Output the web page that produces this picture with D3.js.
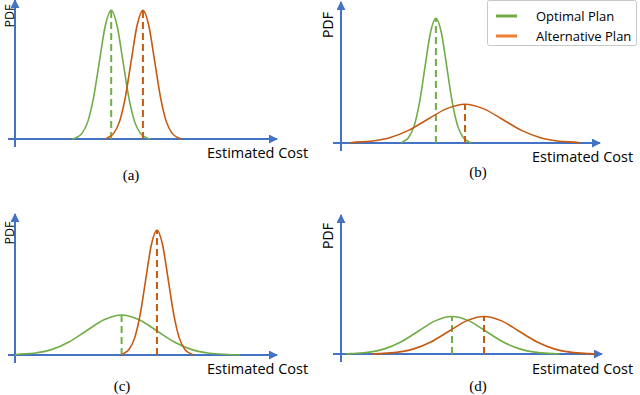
<!DOCTYPE html>
<html><head><meta charset="utf-8">
<script src="https://cdn.jsdelivr.net/npm/d3@7"></script>
<style>body{margin:0;background:#fff}svg{display:block}</style>
</head><body>
<svg id="c" width="640" height="395"></svg>
<script>
// ---- data (x: estimated cost, 0-100; y: PDF, 0-1) ----
const panelLabels = ["(a)", "(b)", "(c)", "(d)"];
const seriesNames = ["Optimal Plan", "Alternative Plan"];
const xLabel = "Estimated Cost";
const yLabel = "PDF";

const aOptimalX = [22, 23.5, 25.75, 28, 30.25, 32.5, 34.75, 37, 39.25, 41.5, 43.75, 46, 48.25, 50.5, 52];
const aOptimalY = [0, 0.011, 0.045, 0.139, 0.335, 0.625, 0.908, 1.03, 0.908, 0.625, 0.335, 0.139, 0.045, 0.011, 0];
const aAltX = [35, 35.7, 37.95, 40.2, 42.45, 44.7, 46.95, 49.2, 51.45, 53.7, 55.95, 58.2, 60.45, 62.7, 64];
const aAltY = [0, 0.011, 0.045, 0.139, 0.335, 0.625, 0.908, 1.03, 0.908, 0.625, 0.335, 0.139, 0.045, 0.011, 0];

const bOptimalX = [23, 23.9, 26, 28.1, 30.2, 32.3, 34.4, 36.5, 38.6, 40.7, 42.8, 44.9, 47, 49.1, 50];
const bOptimalY = [0, 0.011, 0.044, 0.135, 0.325, 0.607, 0.882, 1, 0.882, 0.607, 0.325, 0.135, 0.044, 0.011, 0];
const bAltX = [3.5, 4.2, 11.45, 18.7, 25.95, 33.2, 40.45, 47.7, 54.95, 62.2, 69.45, 76.7, 83.95, 91.2, 92];
const bAltY = [0, 0.003, 0.014, 0.042, 0.101, 0.188, 0.273, 0.31, 0.273, 0.188, 0.101, 0.042, 0.014, 0.003, 0];

const cOptimalX = [0, 0.5, 7.25, 14, 20.75, 27.5, 34.25, 41, 47.75, 54.5, 61.25, 68, 74.75, 81.5, 86.5];
const cOptimalY = [0, 0.004, 0.014, 0.043, 0.104, 0.194, 0.282, 0.32, 0.282, 0.194, 0.104, 0.043, 0.014, 0.004, 0];
const cAltX = [41, 41.7, 43.85, 46, 48.15, 50.3, 52.45, 54.6, 56.75, 58.9, 61.05, 63.2, 65.35, 67.5, 68.5];
const cAltY = [0, 0.011, 0.044, 0.135, 0.325, 0.607, 0.882, 1, 0.882, 0.607, 0.325, 0.135, 0.044, 0.011, 0];

const dOptimalX = [2, 3.7, 10.2, 16.7, 23.2, 29.7, 36.2, 42.7, 49.2, 55.7, 62.2, 68.7, 75.2, 81.7, 84];
const dOptimalY = [0, 0.003, 0.013, 0.041, 0.098, 0.182, 0.265, 0.30, 0.265, 0.182, 0.098, 0.041, 0.013, 0.003, 0];
const dAltX = [12, 14.5, 21.25, 28, 34.75, 41.5, 48.25, 55, 61.75, 68.5, 75.25, 82, 88.75, 95.5, 98];
const dAltY = [0, 0.003, 0.013, 0.041, 0.098, 0.182, 0.265, 0.30, 0.265, 0.182, 0.098, 0.041, 0.013, 0.003, 0];

// ---- layout ----
const zip = (xs, ys) => xs.map((x, i) => ({x, y: ys[i]}));
const panels = [
  {label: panelLabels[0], ax: 15, ay: 139, top: 0, bottom: 147, xStart: 8, xEnd: 277, labX: 207, labY: 158, capX: 131, capY: 180, pdfX: 13.5, pdfY: 16, pdfSize: 12.5,
   series: [zip(aOptimalX, aOptimalY), zip(aAltX, aAltY)]},
  {label: panelLabels[1], ax: 341, ay: 143, top: 2, bottom: 151, xStart: 333, xEnd: 600, labX: 532, labY: 162, capX: 478, capY: 177, pdfX: 333, pdfY: 25, pdfSize: 14,
   series: [zip(bOptimalX, bOptimalY), zip(bAltX, bAltY)]},
  {label: panelLabels[2], ax: 15, ay: 355, top: 214, bottom: 363, xStart: 8, xEnd: 277, labX: 207, labY: 374, capX: 122, capY: 391, pdfX: 13.5, pdfY: 233, pdfSize: 12.5,
   series: [zip(cOptimalX, cOptimalY), zip(cAltX, cAltY)]},
  {label: panelLabels[3], ax: 341, ay: 354, top: 215, bottom: 362, xStart: 333, xEnd: 602, labX: 532, labY: 374, capX: 478, capY: 391, pdfX: 333, pdfY: 236, pdfSize: 14,
   series: [zip(dOptimalX, dOptimalY), zip(dAltX, dAltY)]}
];
const curveColors = ["#70AD47", "#C55A11"];
const legendColors = ["#70AD47", "#ED7D31"];
const axisColor = "#4472C4";
const sansFont = "'Open Sans', 'Noto Sans', sans-serif";

const svg = d3.select("#c");
const defs = svg.append("defs");
defs.append("marker").attr("id", "arr").attr("viewBox", "0 0 10 10")
  .attr("refX", 9).attr("refY", 5).attr("markerWidth", 4.5).attr("markerHeight", 4.5)
  .attr("orient", "auto").attr("markerUnits", "strokeWidth")
  .append("path").attr("d", "M0,0 L10,5 L0,10 z").attr("fill", axisColor);

panels.forEach(p => {
  const x = d3.scaleLinear().domain([0, 100]).range([p.ax, p.ax + 260]);
  const y = d3.scaleLinear().domain([0, 1]).range([p.ay, p.ay - 125]);
  const g = svg.append("g");

  // axes
  g.append("line").attr("x1", p.ax).attr("x2", p.ax).attr("y1", p.bottom).attr("y2", p.top)
    .attr("stroke", axisColor).attr("stroke-width", 2).attr("marker-end", "url(#arr)");
  g.append("line").attr("x1", p.xStart).attr("x2", p.xEnd).attr("y1", p.ay).attr("y2", p.ay)
    .attr("stroke", axisColor).attr("stroke-width", 2).attr("marker-end", "url(#arr)");

  const line = d3.line().x(d => x(d.x)).y(d => y(d.y)).curve(d3.curveMonotoneX);
  p.series.forEach((s, i) => {
    g.append("path").attr("d", line(s)).attr("fill", "none")
      .attr("stroke", curveColors[i]).attr("stroke-width", 1.6);
    const peak = d3.greatest(s, d => d.y);
    g.append("line").attr("x1", x(peak.x)).attr("x2", x(peak.x))
      .attr("y1", y(0)).attr("y2", y(peak.y))
      .attr("stroke", curveColors[i]).attr("stroke-width", 2)
      .attr("stroke-dasharray", "7,4");
  });

  g.append("text").attr("x", p.labX).attr("y", p.labY).text(xLabel)
    .attr("font-family", sansFont).attr("font-size", 14.5).attr("fill", "#000");
  g.append("text").attr("transform", `translate(${p.pdfX},${p.pdfY}) rotate(-90)`)
    .attr("text-anchor", "middle").text(yLabel)
    .attr("font-family", sansFont).attr("font-size", p.pdfSize).attr("fill", "#000");
  g.append("text").attr("x", p.capX).attr("y", p.capY).attr("text-anchor", "middle").text(p.label)
    .attr("font-family", "'Liberation Serif', 'Times New Roman', serif").attr("font-size", 15).attr("fill", "#000");
});

// legend
const lg = svg.append("g");
lg.append("rect").attr("x", 487.5).attr("y", 0.5).attr("width", 149).attr("height", 45).attr("rx", 2)
  .attr("fill", "#fff").attr("stroke", "#c8c8c8");
seriesNames.forEach((n, i) => {
  const yy = 16 + i * 20;
  lg.append("line").attr("x1", 496).attr("x2", 517).attr("y1", yy).attr("y2", yy)
    .attr("stroke", legendColors[i]).attr("stroke-width", 3);
  lg.append("text").attr("x", 536).attr("y", yy + 4.5).text(n)
    .attr("font-family", sansFont).attr("font-size", 13).attr("fill", "#000");
});
</script>
</body></html>
